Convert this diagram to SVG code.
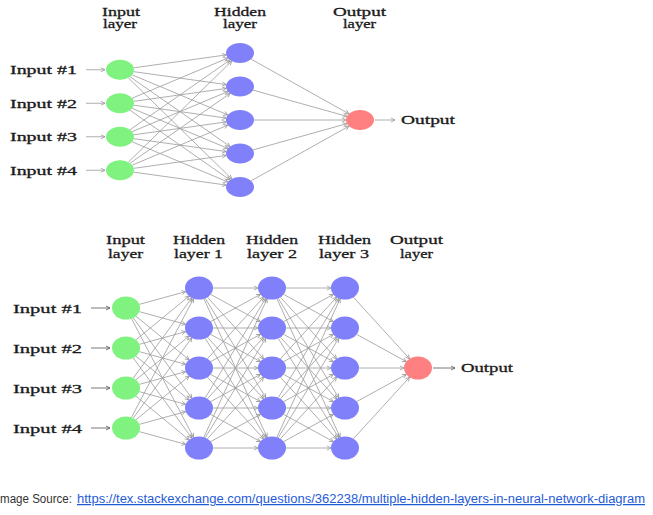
<svg xmlns="http://www.w3.org/2000/svg" width="653" height="515" viewBox="0 0 653 515">
<style>
.t{font-family:"Liberation Serif","DejaVu Serif",serif;fill:#1a1a1a;stroke:#1a1a1a;stroke-width:0.3}
.s1{font-size:12.5px}
.s2{font-size:13.5px}
.e line{stroke:#9a9a9a;stroke-width:0.8;fill:none;marker-end:url(#ah)}
.e line.d{stroke:#555;marker-end:url(#ahd)}
.g{fill:#80f280}
.b{fill:#8080fa}
.r{fill:#ff8080}
.cap{font-family:"Liberation Sans","Open Sans",sans-serif;font-size:12.5px}
</style>
<defs>
<marker id="ah" viewBox="-5 -3 6 6" refX="0" refY="0" markerWidth="6" markerHeight="6" markerUnits="userSpaceOnUse" orient="auto"><path d="M-4,-2 L0,0 L-4,2" fill="none" stroke="#9a9a9a" stroke-width="0.8"/></marker>
<marker id="ahd" viewBox="-5 -3 6 6" refX="0" refY="0" markerWidth="6" markerHeight="6" markerUnits="userSpaceOnUse" orient="auto"><path d="M-4,-2 L0,0 L-4,2" fill="none" stroke="#555" stroke-width="0.8"/></marker>
</defs>
<rect width="653" height="515" fill="#fff"/>

<g id="connectors" class="e">
<!-- top: label arrows -->
<line x1="86" y1="69.75" x2="105" y2="69.75"/>
<line x1="86" y1="103.25" x2="105" y2="103.25"/>
<line x1="86" y1="136.75" x2="105" y2="136.75"/>
<line x1="86" y1="170.25" x2="105" y2="170.25"/>
<line x1="375" y1="120" x2="395" y2="120"/>
<!-- top: input to hidden -->
<line x1="133.74" y1="67.83" x2="226.26" y2="54.92"/>
<line x1="133.74" y1="71.67" x2="226.26" y2="84.58"/>
<line x1="132.08" y1="74.81" x2="227.92" y2="114.94"/>
<line x1="130.01" y1="76.74" x2="229.99" y2="146.51"/>
<line x1="128.26" y1="77.82" x2="231.74" y2="178.93"/>
<line x1="132.08" y1="98.19" x2="227.92" y2="58.06"/>
<line x1="133.74" y1="101.33" x2="226.26" y2="88.42"/>
<line x1="133.74" y1="105.17" x2="226.26" y2="118.08"/>
<line x1="132.08" y1="108.31" x2="227.92" y2="148.44"/>
<line x1="130.01" y1="110.24" x2="229.99" y2="180.01"/>
<line x1="130.01" y1="129.76" x2="229.99" y2="59.99"/>
<line x1="132.08" y1="131.69" x2="227.92" y2="91.56"/>
<line x1="133.74" y1="134.83" x2="226.26" y2="121.92"/>
<line x1="133.74" y1="138.67" x2="226.26" y2="151.58"/>
<line x1="132.08" y1="141.81" x2="227.92" y2="181.94"/>
<line x1="128.26" y1="162.18" x2="231.74" y2="61.07"/>
<line x1="130.01" y1="163.26" x2="229.99" y2="93.49"/>
<line x1="132.08" y1="165.19" x2="227.92" y2="125.06"/>
<line x1="133.74" y1="168.33" x2="226.26" y2="155.42"/>
<line x1="133.74" y1="172.17" x2="226.26" y2="185.08"/>
<!-- top: hidden to output -->
<line x1="251.03" y1="59.16" x2="348.97" y2="113.84"/>
<line x1="253.04" y1="90.14" x2="346.96" y2="116.36"/>
<line x1="254" y1="120" x2="346" y2="120"/>
<line x1="253.04" y1="149.86" x2="346.96" y2="123.64"/>
<line x1="251.03" y1="180.84" x2="348.97" y2="126.16"/>

<!-- bottom: label arrows -->
<line class="d" x1="91" y1="308" x2="110" y2="308"/>
<line class="d" x1="91" y1="348" x2="110" y2="348"/>
<line class="d" x1="91" y1="388" x2="110" y2="388"/>
<line class="d" x1="91" y1="428" x2="110" y2="428"/>
<line class="d" x1="433" y1="368" x2="455" y2="368"/>
<!-- bottom: input to hidden 1 -->
<line x1="139.28" y1="304.36" x2="185.72" y2="291.64"/>
<line x1="139.28" y1="311.64" x2="185.72" y2="324.36"/>
<line x1="135.90" y1="316.13" x2="189.10" y2="359.87"/>
<line x1="133.20" y1="317.86" x2="191.80" y2="398.14"/>
<line x1="131.51" y1="318.57" x2="193.49" y2="437.43"/>
<line x1="135.90" y1="339.87" x2="189.10" y2="296.13"/>
<line x1="139.28" y1="344.36" x2="185.72" y2="331.64"/>
<line x1="139.28" y1="351.64" x2="185.72" y2="364.36"/>
<line x1="135.90" y1="356.13" x2="189.10" y2="399.87"/>
<line x1="133.20" y1="357.86" x2="191.80" y2="438.14"/>
<line x1="133.20" y1="378.14" x2="191.80" y2="297.86"/>
<line x1="135.90" y1="379.87" x2="189.10" y2="336.13"/>
<line x1="139.28" y1="384.36" x2="185.72" y2="371.64"/>
<line x1="139.28" y1="391.64" x2="185.72" y2="404.36"/>
<line x1="135.90" y1="396.13" x2="189.10" y2="439.87"/>
<line x1="131.51" y1="417.43" x2="193.49" y2="298.57"/>
<line x1="133.20" y1="418.14" x2="191.80" y2="337.86"/>
<line x1="135.90" y1="419.87" x2="189.10" y2="376.13"/>
<line x1="139.28" y1="424.36" x2="185.72" y2="411.64"/>
<line x1="139.28" y1="431.64" x2="185.72" y2="444.36"/>
<!-- bottom: hidden 1 to hidden 2 -->
<line x1="213" y1="288" x2="258" y2="288"/>
<line x1="210.65" y1="294.38" x2="260.35" y2="321.62"/>
<line x1="207.40" y1="297.20" x2="263.60" y2="358.80"/>
<line x1="205.26" y1="298.29" x2="265.74" y2="397.71"/>
<line x1="203.91" y1="298.77" x2="267.09" y2="437.23"/>
<line x1="210.65" y1="321.62" x2="260.35" y2="294.38"/>
<line x1="213" y1="328" x2="258" y2="328"/>
<line x1="210.65" y1="334.38" x2="260.35" y2="361.62"/>
<line x1="207.40" y1="337.20" x2="263.60" y2="398.80"/>
<line x1="205.26" y1="338.29" x2="265.74" y2="437.71"/>
<line x1="207.40" y1="358.80" x2="263.60" y2="297.20"/>
<line x1="210.65" y1="361.62" x2="260.35" y2="334.38"/>
<line x1="213" y1="368" x2="258" y2="368"/>
<line x1="210.65" y1="374.38" x2="260.35" y2="401.62"/>
<line x1="207.40" y1="377.20" x2="263.60" y2="438.80"/>
<line x1="205.26" y1="397.71" x2="265.74" y2="298.29"/>
<line x1="207.40" y1="398.80" x2="263.60" y2="337.20"/>
<line x1="210.65" y1="401.62" x2="260.35" y2="374.38"/>
<line x1="213" y1="408" x2="258" y2="408"/>
<line x1="210.65" y1="414.38" x2="260.35" y2="441.62"/>
<line x1="203.91" y1="437.23" x2="267.09" y2="298.77"/>
<line x1="205.26" y1="437.71" x2="265.74" y2="338.29"/>
<line x1="207.40" y1="438.80" x2="263.60" y2="377.20"/>
<line x1="210.65" y1="441.62" x2="260.35" y2="414.38"/>
<line x1="213" y1="448" x2="258" y2="448"/>
<!-- bottom: hidden 2 to hidden 3 -->
<line x1="286" y1="288" x2="331" y2="288"/>
<line x1="283.65" y1="294.38" x2="333.35" y2="321.62"/>
<line x1="280.40" y1="297.20" x2="336.60" y2="358.80"/>
<line x1="278.26" y1="298.29" x2="338.74" y2="397.71"/>
<line x1="276.91" y1="298.77" x2="340.09" y2="437.23"/>
<line x1="283.65" y1="321.62" x2="333.35" y2="294.38"/>
<line x1="286" y1="328" x2="331" y2="328"/>
<line x1="283.65" y1="334.38" x2="333.35" y2="361.62"/>
<line x1="280.40" y1="337.20" x2="336.60" y2="398.80"/>
<line x1="278.26" y1="338.29" x2="338.74" y2="437.71"/>
<line x1="280.40" y1="358.80" x2="336.60" y2="297.20"/>
<line x1="283.65" y1="361.62" x2="333.35" y2="334.38"/>
<line x1="286" y1="368" x2="331" y2="368"/>
<line x1="283.65" y1="374.38" x2="333.35" y2="401.62"/>
<line x1="280.40" y1="377.20" x2="336.60" y2="438.80"/>
<line x1="278.26" y1="397.71" x2="338.74" y2="298.29"/>
<line x1="280.40" y1="398.80" x2="336.60" y2="337.20"/>
<line x1="283.65" y1="401.62" x2="333.35" y2="374.38"/>
<line x1="286" y1="408" x2="331" y2="408"/>
<line x1="283.65" y1="414.38" x2="333.35" y2="441.62"/>
<line x1="276.91" y1="437.23" x2="340.09" y2="298.77"/>
<line x1="278.26" y1="437.71" x2="338.74" y2="338.29"/>
<line x1="280.40" y1="438.80" x2="336.60" y2="377.20"/>
<line x1="283.65" y1="441.62" x2="333.35" y2="414.38"/>
<line x1="286" y1="448" x2="331" y2="448"/>
<!-- bottom: hidden 3 to output -->
<line x1="353.40" y1="297.20" x2="409.60" y2="358.80"/>
<line x1="356.65" y1="334.38" x2="406.35" y2="361.62"/>
<line x1="359" y1="368" x2="404" y2="368"/>
<line x1="356.65" y1="401.62" x2="406.35" y2="374.38"/>
<line x1="353.40" y1="438.80" x2="409.60" y2="377.20"/>
</g>

<!-- top network nodes -->
<g id="t-in1"><ellipse class="g" cx="120" cy="69.75" rx="14" ry="10"/></g>
<g id="t-in2"><ellipse class="g" cx="120" cy="103.25" rx="14" ry="10"/></g>
<g id="t-in3"><ellipse class="g" cx="120" cy="136.75" rx="14" ry="10"/></g>
<g id="t-in4"><ellipse class="g" cx="120" cy="170.25" rx="14" ry="10"/></g>
<g id="t-h1"><ellipse class="b" cx="240" cy="53" rx="14" ry="10"/></g>
<g id="t-h2"><ellipse class="b" cx="240" cy="86.5" rx="14" ry="10"/></g>
<g id="t-h3"><ellipse class="b" cx="240" cy="120" rx="14" ry="10"/></g>
<g id="t-h4"><ellipse class="b" cx="240" cy="153.5" rx="14" ry="10"/></g>
<g id="t-h5"><ellipse class="b" cx="240" cy="187" rx="14" ry="10"/></g>
<g id="t-out"><ellipse class="r" cx="360" cy="120" rx="14" ry="10"/></g>

<!-- bottom network nodes -->
<g id="b-in1"><ellipse class="g" cx="126" cy="308" rx="14" ry="11.5"/></g>
<g id="b-in2"><ellipse class="g" cx="126" cy="348" rx="14" ry="11.5"/></g>
<g id="b-in3"><ellipse class="g" cx="126" cy="388" rx="14" ry="11.5"/></g>
<g id="b-in4"><ellipse class="g" cx="126" cy="428" rx="14" ry="11.5"/></g>
<g id="b-h1-1"><ellipse class="b" cx="199" cy="288" rx="14" ry="11.5"/></g>
<g id="b-h1-2"><ellipse class="b" cx="199" cy="328" rx="14" ry="11.5"/></g>
<g id="b-h1-3"><ellipse class="b" cx="199" cy="368" rx="14" ry="11.5"/></g>
<g id="b-h1-4"><ellipse class="b" cx="199" cy="408" rx="14" ry="11.5"/></g>
<g id="b-h1-5"><ellipse class="b" cx="199" cy="448" rx="14" ry="11.5"/></g>
<g id="b-h2-1"><ellipse class="b" cx="272" cy="288" rx="14" ry="11.5"/></g>
<g id="b-h2-2"><ellipse class="b" cx="272" cy="328" rx="14" ry="11.5"/></g>
<g id="b-h2-3"><ellipse class="b" cx="272" cy="368" rx="14" ry="11.5"/></g>
<g id="b-h2-4"><ellipse class="b" cx="272" cy="408" rx="14" ry="11.5"/></g>
<g id="b-h2-5"><ellipse class="b" cx="272" cy="448" rx="14" ry="11.5"/></g>
<g id="b-h3-1"><ellipse class="b" cx="345" cy="288" rx="14" ry="11.5"/></g>
<g id="b-h3-2"><ellipse class="b" cx="345" cy="328" rx="14" ry="11.5"/></g>
<g id="b-h3-3"><ellipse class="b" cx="345" cy="368" rx="14" ry="11.5"/></g>
<g id="b-h3-4"><ellipse class="b" cx="345" cy="408" rx="14" ry="11.5"/></g>
<g id="b-h3-5"><ellipse class="b" cx="345" cy="448" rx="14" ry="11.5"/></g>
<g id="b-out"><ellipse class="r" cx="418" cy="368" rx="14" ry="11.5"/></g>

<!-- top labels -->
<g id="t-labels" class="t s1">
<text x="102" y="15.5" textLength="38" lengthAdjust="spacingAndGlyphs">Input</text>
<text x="103" y="28" textLength="34" lengthAdjust="spacingAndGlyphs">layer</text>
<text x="214" y="15.5" textLength="52" lengthAdjust="spacingAndGlyphs">Hidden</text>
<text x="223" y="28" textLength="34" lengthAdjust="spacingAndGlyphs">layer</text>
<text x="333" y="15.5" textLength="53" lengthAdjust="spacingAndGlyphs">Output</text>
<text x="343" y="28" textLength="33" lengthAdjust="spacingAndGlyphs">layer</text>
<text x="10" y="74" textLength="67" lengthAdjust="spacingAndGlyphs">Input #1</text>
<text x="10" y="107.5" textLength="67" lengthAdjust="spacingAndGlyphs">Input #2</text>
<text x="10" y="141" textLength="67" lengthAdjust="spacingAndGlyphs">Input #3</text>
<text x="10" y="174.5" textLength="67" lengthAdjust="spacingAndGlyphs">Input #4</text>
<text x="401" y="124" textLength="54" lengthAdjust="spacingAndGlyphs">Output</text>
</g>

<!-- bottom labels -->
<g id="b-labels" class="t s2">
<text x="106" y="244" textLength="39" lengthAdjust="spacingAndGlyphs">Input</text>
<text x="108" y="258" textLength="35" lengthAdjust="spacingAndGlyphs">layer</text>
<text x="173" y="244" textLength="52" lengthAdjust="spacingAndGlyphs">Hidden</text>
<text x="174" y="258" textLength="49" lengthAdjust="spacingAndGlyphs">layer 1</text>
<text x="246" y="244" textLength="52" lengthAdjust="spacingAndGlyphs">Hidden</text>
<text x="247" y="258" textLength="50" lengthAdjust="spacingAndGlyphs">layer 2</text>
<text x="318" y="244" textLength="53" lengthAdjust="spacingAndGlyphs">Hidden</text>
<text x="319" y="258" textLength="50" lengthAdjust="spacingAndGlyphs">layer 3</text>
<text x="390" y="244" textLength="53" lengthAdjust="spacingAndGlyphs">Output</text>
<text x="400" y="258" textLength="33" lengthAdjust="spacingAndGlyphs">layer</text>
<text x="13" y="312.5" textLength="69" lengthAdjust="spacingAndGlyphs">Input #1</text>
<text x="13" y="352.5" textLength="69" lengthAdjust="spacingAndGlyphs">Input #2</text>
<text x="13" y="392.5" textLength="69" lengthAdjust="spacingAndGlyphs">Input #3</text>
<text x="13" y="432.5" textLength="69" lengthAdjust="spacingAndGlyphs">Input #4</text>
<text x="461" y="372" textLength="52" lengthAdjust="spacingAndGlyphs">Output</text>
</g>

<!-- caption -->
<g id="caption" class="cap">
<text x="0" y="503" fill="#333" textLength="72" lengthAdjust="spacingAndGlyphs">mage Source:</text>
<text x="77" y="503" fill="#1f5bd6" text-decoration="underline" textLength="568" lengthAdjust="spacingAndGlyphs">https://tex.stackexchange.com/questions/362238/multiple-hidden-layers-in-neural-network-diagram</text>
</g>
</svg>
